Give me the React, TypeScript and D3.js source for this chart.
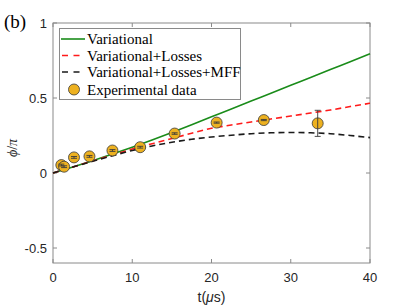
import React, { useEffect, useRef } from "react";
import * as d3 from "d3";

// model curves, sampled on a common time grid (μs)
const tGrid = [0, 2.5, 5, 7.5, 10, 12.5, 15, 17.5, 20, 22.5, 25, 27.5, 30, 32.5, 35, 37.5, 40];
const variational = [0, 0.04, 0.082, 0.126, 0.172, 0.22, 0.27, 0.322, 0.375, 0.427, 0.48, 0.532, 0.585, 0.637, 0.69, 0.742, 0.795];
const varLosses = [0, 0.04, 0.08, 0.12, 0.16, 0.195, 0.23, 0.265, 0.298, 0.32, 0.34, 0.36, 0.38, 0.4, 0.42, 0.443, 0.465];
const varLossesMff = [0, 0.04, 0.078, 0.115, 0.15, 0.18, 0.205, 0.225, 0.24, 0.252, 0.262, 0.268, 0.27, 0.268, 0.262, 0.25, 0.236];

// experimental data
const expT = [1.05, 1.4, 2.65, 4.6, 7.5, 11.0, 15.35, 20.65, 26.6, 33.4];
const expPhi = [0.053, 0.042, 0.104, 0.111, 0.15, 0.172, 0.263, 0.336, 0.353, 0.331];
const expErr = [0.006, 0.006, 0.006, 0.006, 0.006, 0.006, 0.005, 0.004, 0.004, 0.087];

const xTicks = [0, 10, 20, 30, 40];
const yTicks = [-0.5, 0, 0.5, 1];
const yTickLabels = ["-0.5", "0", "0.5", "1"];

const legendLabels = ["Variational", "Variational+Losses", "Variational+Losses+MFF", "Experimental data"];

const W = 409;
const H = 307;
const margin = { left: 53, right: 39, top: 23, bottom: 44 };

const GREEN = "#1a8c1a";
const RED = "#ff1a1a";
const BLACK = "#1a1a1a";
const GOLD = "#EDB120";
const AXIS = "#8a8a8a";
const TEXT = "#262626";

export default function App() {
  const svgRef = useRef<SVGSVGElement>(null);

  useEffect(() => {
    const svg = d3.select(svgRef.current);
    svg.selectAll("*").remove();

    const x = d3.scaleLinear().domain([0, 40]).range([margin.left, W - margin.right]);
    const y = d3.scaleLinear().domain([-0.6, 1]).range([H - margin.bottom, margin.top]);
    const x0 = margin.left, x1 = W - margin.right;
    const y0 = H - margin.bottom, y1 = margin.top;

    svg.append("rect").attr("width", W).attr("height", H).attr("fill", "white");

    // axes box
    svg.append("rect")
      .attr("x", x0).attr("y", y1)
      .attr("width", x1 - x0).attr("height", y0 - y1)
      .attr("fill", "none").attr("stroke", AXIS).attr("stroke-width", 1);

    const tk = 4;
    xTicks.forEach((t) => {
      const px = x(t);
      svg.append("line").attr("x1", px).attr("x2", px).attr("y1", y0).attr("y2", y0 - tk).attr("stroke", AXIS);
      svg.append("line").attr("x1", px).attr("x2", px).attr("y1", y1).attr("y2", y1 + tk).attr("stroke", AXIS);
      svg.append("text").attr("x", px).attr("y", y0 + 19)
        .attr("text-anchor", "middle").attr("font-family", "Liberation Sans, Arial, sans-serif")
        .attr("font-size", 13).attr("fill", TEXT).text(String(t));
    });
    yTicks.forEach((v, i) => {
      const py = y(v);
      svg.append("line").attr("x1", x0).attr("x2", x0 + tk).attr("y1", py).attr("y2", py).attr("stroke", AXIS);
      svg.append("line").attr("x1", x1).attr("x2", x1 - tk).attr("y1", py).attr("y2", py).attr("stroke", AXIS);
      svg.append("text").attr("x", x0 - 6).attr("y", py + 4.5)
        .attr("text-anchor", "end").attr("font-family", "Liberation Sans, Arial, sans-serif")
        .attr("font-size", 13).attr("fill", TEXT).text(yTickLabels[i]);
    });

    // axis labels
    const xl = svg.append("text").attr("x", (x0 + x1) / 2).attr("y", 302)
      .attr("text-anchor", "middle").attr("font-family", "Liberation Sans, Arial, sans-serif")
      .attr("font-size", 14).attr("fill", TEXT);
    xl.append("tspan").text("t(");
    xl.append("tspan").attr("font-style", "italic").text("μ");
    xl.append("tspan").text("s)");

    const yl = svg.append("text").attr("transform", `translate(17,${(y0 + y1) / 2 + 5}) rotate(-90)`)
      .attr("text-anchor", "middle").attr("font-family", "Liberation Serif, serif")
      .attr("font-size", 14).attr("fill", TEXT);
    yl.append("tspan").attr("font-style", "italic").text("ϕ");
    yl.append("tspan").text("/");
    yl.append("tspan").attr("font-style", "italic").text("π");

    svg.append("text").attr("x", 4).attr("y", 28)
      .attr("font-family", "Liberation Serif, serif").attr("font-size", 19).attr("fill", "black").text("(b)");

    // curves
    const plot = svg.append("g");
    const line = d3.line<number>()
      .x((_, i) => x(tGrid[i]))
      .y((d) => y(d))
      .curve(d3.curveMonotoneX);

    plot.append("path").attr("d", line(variational)!).attr("fill", "none")
      .attr("stroke", GREEN).attr("stroke-width", 1.6);
    plot.append("path").attr("d", line(varLosses)!).attr("fill", "none")
      .attr("stroke", RED).attr("stroke-width", 1.6).attr("stroke-dasharray", "6,4");
    plot.append("path").attr("d", line(varLossesMff)!).attr("fill", "none")
      .attr("stroke", BLACK).attr("stroke-width", 1.6).attr("stroke-dasharray", "6,4");

    // markers
    expT.forEach((t, i) => {
      plot.append("circle").attr("cx", x(t)).attr("cy", y(expPhi[i])).attr("r", 5.5)
        .attr("fill", GOLD).attr("stroke", "#3a3a3a").attr("stroke-width", 0.8);
    });
    // error bars
    expT.forEach((t, i) => {
      const px = x(t);
      const ya = y(expPhi[i] - expErr[i]);
      const yb = y(expPhi[i] + expErr[i]);
      const g = plot.append("g").attr("stroke", "#3a3a3a").attr("stroke-width", 0.9);
      g.append("line").attr("x1", px).attr("x2", px).attr("y1", ya).attr("y2", yb);
      g.append("line").attr("x1", px - 3).attr("x2", px + 3).attr("y1", ya).attr("y2", ya);
      g.append("line").attr("x1", px - 3).attr("x2", px + 3).attr("y1", yb).attr("y2", yb);
    });

    // legend
    const lg = svg.append("g");
    lg.append("rect").attr("x", 59.5).attr("y", 28.5).attr("width", 181).attr("height", 71)
      .attr("fill", "white").attr("stroke", AXIS).attr("stroke-width", 1);
    const rows = [39, 55.5, 72, 89.5];
    const styles = [
      { stroke: GREEN, dash: null },
      { stroke: RED, dash: "6,5.5" },
      { stroke: BLACK, dash: "6,5.5" },
    ];
    styles.forEach((s, i) => {
      const l = lg.append("line").attr("x1", 61).attr("x2", 85).attr("y1", rows[i]).attr("y2", rows[i])
        .attr("stroke", s.stroke).attr("stroke-width", 1.6);
      if (s.dash) l.attr("stroke-dasharray", s.dash).attr("x1", 62);
    });
    lg.append("circle").attr("cx", 74).attr("cy", rows[3]).attr("r", 5.5)
      .attr("fill", GOLD).attr("stroke", "#3a3a3a").attr("stroke-width", 0.8);
    legendLabels.forEach((lab, i) => {
      lg.append("text").attr("x", 87).attr("y", rows[i] + 5)
        .attr("font-family", "Liberation Serif, serif").attr("font-size", 15).attr("fill", "black").text(lab);
    });
  }, []);

  return (
    <svg ref={svgRef} width={W} height={H}
      style={{ position: "absolute", left: 0, top: 0, display: "block" }} />
  );
}
